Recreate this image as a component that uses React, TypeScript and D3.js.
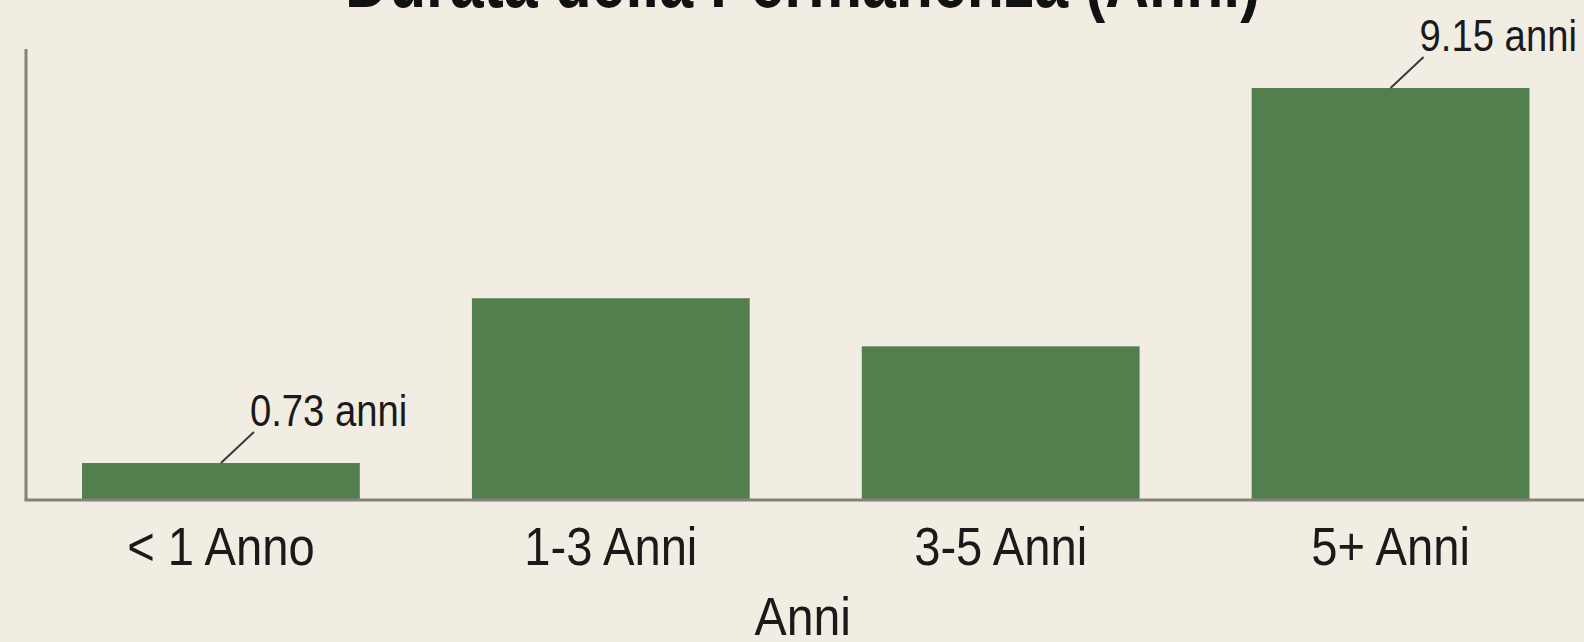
import React from "react";
import * as d3 from "d3";

const categories = ["< 1 Anno", "1-3 Anni", "3-5 Anni", "5+ Anni"];
const values = [0.73, 4.43, 3.35, 9.15];
const labelled = ["< 1 Anno", "5+ Anni"];
const labelSuffix = " anni";
const title = "Durata della Permanenza (Anni)";
const xTitle = "Anni";

const W = 1584;
const H = 642;
const BG = "#f1ede2";
const BAR = "#537f4f";
const AXIS = "#86817a";
const FONT = "'Liberation Sans Narrow', 'Liberation Sans', Arial, sans-serif";

function SText(props: {
  x: number;
  y: number;
  sx: number;
  size: number;
  anchor?: string;
  weight?: string;
  fill?: string;
  children: React.ReactNode;
}) {
  return (
    <g transform={`translate(${props.x},${props.y}) scale(${props.sx},1)`}>
      <text
        x={0}
        y={0}
        textAnchor={props.anchor || "start"}
        fontFamily={FONT}
        fontWeight={props.weight || "normal"}
        fontSize={props.size}
        fill={props.fill || "#1a1a1a"}
      >
        {props.children}
      </text>
    </g>
  );
}

export default function App() {
  const x = d3
    .scaleBand<string>()
    .domain(categories)
    .range([25.5, 1586])
    .paddingInner(0.2875)
    .paddingOuter(0.145);
  const y = d3.scaleLinear().domain([-0.1, 9.15]).range([500, 88]);
  const base = y(-0.1);
  const midX = (x.range()[0] + x.range()[1]) / 2;

  return (
    <svg
      width={W}
      height={H}
      style={{ position: "fixed", left: 0, top: 0, background: BG, display: "block" }}
    >
      <rect x={0} y={0} width={W} height={H} fill={BG} />
      <SText x={midX - 3} y={7} sx={0.8} size={76} anchor="middle" weight="bold" fill="#111">
        {title}
      </SText>
      {categories.map((c, i) => (
        <rect
          key={c}
          x={x(c)}
          y={y(values[i])}
          width={x.bandwidth()}
          height={base - y(values[i])}
          fill={BAR}
        />
      ))}
      <line x1={26} x2={26} y1={49} y2={base} stroke={AXIS} strokeWidth={3} />
      <line x1={24.5} x2={W} y1={base} y2={base} stroke={AXIS} strokeWidth={3} />
      {categories.map((c) => (
        <SText
          key={"t" + c}
          x={(x(c) as number) + x.bandwidth() / 2}
          y={565}
          sx={0.89}
          size={53}
          anchor="middle"
        >
          {c}
        </SText>
      ))}
      <SText x={midX - 3} y={635} sx={0.91} size={53} anchor="middle">
        {xTitle}
      </SText>
      {categories.map((c, i) => {
        if (!labelled.includes(c)) return null;
        const cx = (x(c) as number) + x.bandwidth() / 2;
        const ty = y(values[i]);
        const ex = cx + 33;
        const ey = ty - 31;
        return (
          <g key={"l" + c}>
            <line x1={cx} y1={ty} x2={ex} y2={ey} stroke="#3a3a3a" strokeWidth={2} />
            <SText x={ex - 4} y={ey - 6} sx={0.85} size={45}>
              {values[i].toFixed(2) + labelSuffix}
            </SText>
          </g>
        );
      })}
    </svg>
  );
}
